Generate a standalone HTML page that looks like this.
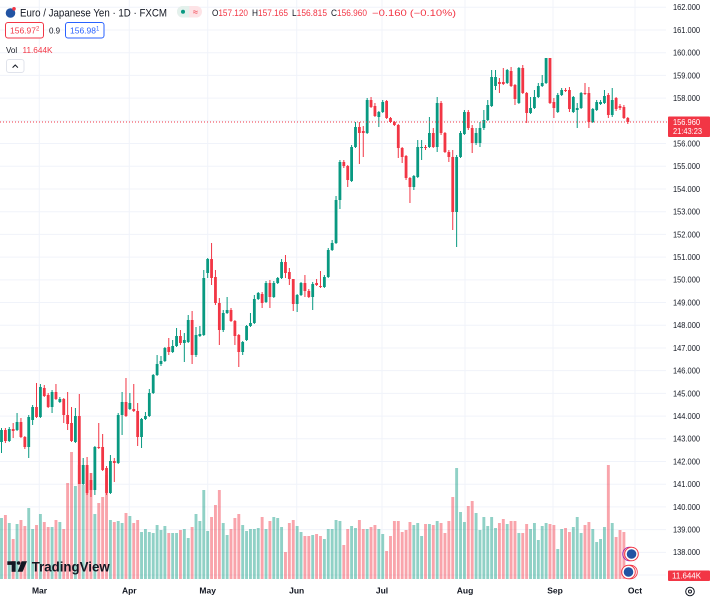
<!DOCTYPE html>
<html><head><meta charset="utf-8">
<style>
html,body{margin:0;padding:0;background:#fff;width:710px;height:600px;overflow:hidden}
svg{display:block;font-family:"Liberation Sans",Arial,sans-serif}
</style></head><body>
<svg id="c" width="710" height="600" viewBox="0 0 710 600" xmlns="http://www.w3.org/2000/svg">
<rect x="0" y="0" width="710" height="600" fill="#fff"/>
<g id="grid"></g>
<g id="vol"></g>
<g id="cand"></g>
<line x1="0" y1="122" x2="668" y2="122" stroke="#f23645" stroke-width="1" stroke-dasharray="1,2"/>
<g id="plabels" font-size="8" fill="#131722"></g>

<!-- current price box -->
<rect x="668" y="116.5" width="42" height="20.5" fill="#f23645" rx="1"/>
<text x="673" y="124.8" font-size="8" fill="#fff" textLength="27" lengthAdjust="spacingAndGlyphs">156.960</text>
<text x="673" y="134" font-size="8" fill="#fff" textLength="29" lengthAdjust="spacingAndGlyphs">21:43:23</text>

<!-- volume label box -->
<rect x="668" y="570.5" width="42" height="10.5" fill="#f23645" rx="1"/>
<text x="672" y="578.6" font-size="8" fill="#fff" textLength="29" lengthAdjust="spacingAndGlyphs">11.644K</text>

<!-- time axis -->
<g font-size="8.5" font-weight="bold" fill="#131722" text-anchor="middle">
<text x="39.5" y="593.5">Mar</text>
<text x="129.3" y="593.5">Apr</text>
<text x="207.7" y="593.5">May</text>
<text x="296.7" y="593.5">Jun</text>
<text x="382" y="593.5">Jul</text>
<text x="465" y="593.5">Aug</text>
<text x="555" y="593.5">Sep</text>
<text x="635" y="593.5">Oct</text>
</g>
<!-- gear -->
<circle cx="690" cy="591.5" r="4.3" fill="none" stroke="#131722" stroke-width="1"/>
<circle cx="690" cy="591.5" r="1.5" fill="none" stroke="#131722" stroke-width="1"/>

<!-- EU flag icons -->
<circle cx="629.5" cy="554" r="6.8" fill="none" stroke="#9c27b0" stroke-width="0.9"/>
<circle cx="631.5" cy="554" r="6.8" fill="#fff" stroke="#f23645" stroke-width="1"/>
<circle cx="631.5" cy="554" r="4.8" fill="#2254a3"/>
<circle cx="630.5" cy="572" r="6.8" fill="none" stroke="#f23645" stroke-width="0.9"/>
<circle cx="628.5" cy="572" r="6.8" fill="#fff" stroke="#f23645" stroke-width="1"/>
<circle cx="628.5" cy="572" r="4.8" fill="#2254a3"/>

<!-- TradingView logo -->
<g fill="#131722">
<rect x="7.3" y="561.3" width="8.3" height="3.6"/>
<rect x="11.6" y="561.3" width="4" height="10.5"/>
<circle cx="18.6" cy="563" r="1.8"/>
<polygon points="21.6,561.3 27,561.3 22.6,571.8 17.6,571.8"/>
</g>
<text x="31.7" y="571.7" font-size="14" font-weight="bold" fill="#131722" textLength="78" lengthAdjust="spacingAndGlyphs">TradingView</text>

<!-- header -->
<circle cx="10.5" cy="13" r="4.8" fill="#2254a3"/>
<circle cx="14" cy="8.8" r="1.8" fill="#f23645"/>
<text x="20" y="16.3" font-size="11" fill="#131722" textLength="147" lengthAdjust="spacingAndGlyphs">Euro / Japanese Yen · 1D · FXCM</text>
<rect x="177" y="6" width="25" height="11.5" rx="5.75" fill="#fde3e6"/>
<path d="M182.75,6 h6.5 v11.5 h-6.5 a5.75,5.75 0 0 1 0,-11.5 z" fill="#e3f1ec"/>
<circle cx="183" cy="11.75" r="2" fill="#089981"/>
<text x="195.5" y="15" font-size="9" fill="#f23645" text-anchor="middle">≈</text>

<g font-size="8.8" fill="#f23645">
<text x="212" y="16" textLength="36" lengthAdjust="spacingAndGlyphs"><tspan fill="#131722">O</tspan>157.120</text>
<text x="252" y="16" textLength="36" lengthAdjust="spacingAndGlyphs"><tspan fill="#131722">H</tspan>157.165</text>
<text x="292" y="16" textLength="35" lengthAdjust="spacingAndGlyphs"><tspan fill="#131722">L</tspan>156.815</text>
<text x="331" y="16" textLength="36" lengthAdjust="spacingAndGlyphs"><tspan fill="#131722">C</tspan>156.960</text>
<text x="372" y="16" textLength="84" lengthAdjust="spacingAndGlyphs">−0.160 (−0.10%)</text>
</g>

<rect x="5.5" y="22.5" width="38" height="15.5" rx="2.5" fill="#fff" stroke="#f23645" stroke-width="1"/>
<text x="10" y="33.4" font-size="8.5" fill="#f23645">156.97<tspan font-size="6" dy="-3">2</tspan></text>
<text x="49" y="33.4" font-size="8" fill="#131722">0.9</text>
<rect x="65.5" y="22.5" width="38.5" height="15.5" rx="2.5" fill="#fff" stroke="#2962ff" stroke-width="1"/>
<text x="70" y="33.4" font-size="8.5" fill="#2962ff">156.98<tspan font-size="6" dy="-3">1</tspan></text>

<text x="6" y="53" font-size="8" fill="#131722">Vol</text>
<text x="22.5" y="53" font-size="8" fill="#f23645" textLength="30" lengthAdjust="spacingAndGlyphs">11.644K</text>

<rect x="6.5" y="59.5" width="17.5" height="13" rx="2.5" fill="#fff" stroke="#e0e3eb" stroke-width="1"/>
<polyline points="12.6,67.6 15.25,65 17.9,67.6" fill="none" stroke="#131722" stroke-width="1"/>
</svg>
<script>
const C=[
[1,430,442,428,453],[0,430,441,428,443],[1,429,441,427,442],[0,429,431,423,438],[1,422,430,413,431],
[0,422,437,418,438],[0,437,447,436,449],[1,417,447,415,458],[1,407,420,405,425],[0,407,417,383,418],
[1,387,417,384,418],[0,388,396,385,397],[0,395,407,393,408],[1,392,407,390,413],[0,392,399,384,400],
[1,399,402,397,403],[0,399,415,398,423],[0,415,424,392,430],[0,423,441,407,442],[1,416,442,408,443],
[0,416,484,394,484],[1,465,484,458,485],[0,465,493,457,495],[0,480,490,473,497],[1,447,490,446,495],
[0,447,448,423,449],[0,447,470,434,471],[0,468,493,466,495],[1,461,493,455,494],[0,461,463,458,482],
[1,415,463,413,464],[1,402,415,392,435],[0,402,416,378,417],[1,403,409,393,410],[0,409,411,384,412],
[0,411,437,403,446],[1,419,437,418,448],[1,416,419,412,420],[1,393,416,389,417],[1,375,393,374,394],
[1,364,375,355,376],[1,361,364,356,366],[1,348,361,347,362],[0,347,352,338,355],[1,346,352,340,353],
[1,336,346,328,347],[0,336,343,330,345],[1,340,343,333,362],[1,320,342,315,343],[0,320,355,311,364],
[1,335,355,327,357],[1,334,336,326,337],[1,278,335,270,336],[1,259,273,258,278],[0,259,278,243,285],
[0,277,303,270,305],[0,303,330,298,345],[1,313,330,310,332],[1,310,313,297,314],[0,310,321,308,322],
[0,321,336,320,345],[0,335,352,334,367],[1,342,352,341,355],[1,326,340,325,341],[1,323,326,313,327],
[1,299,323,295,324],[1,293,299,292,300],[0,294,303,292,308],[1,283,302,281,303],[0,283,297,280,308],
[1,283,297,281,298],[1,278,283,277,284],[1,262,278,259,279],[0,262,273,255,278],[0,272,279,268,285],
[0,279,304,279,311],[1,295,304,294,312],[1,283,295,282,296],[0,283,291,275,297],[0,291,297,289,298],
[1,284,297,282,310],[0,283,285,279,286],[0,286,287,271,288],[1,277,287,275,288],[1,250,277,248,278],
[1,243,250,240,251],[1,200,243,196,244],[1,162,200,160,209],[0,162,166,160,168],[0,166,180,165,187],
[1,147,181,145,182],[1,127,147,122,148],[0,127,133,122,164],[0,131,133,126,157],[1,100,133,98,134],
[0,100,107,97,108],[0,106,116,103,117],[1,112,117,111,127],[1,102,112,100,113],[0,101,118,100,119],
[0,118,122,117,123],[0,122,125,121,126],[0,125,148,124,158],[0,148,157,147,163],[0,156,178,155,180],
[0,178,187,177,203],[1,176,187,175,190],[1,147,177,140,178],[1,147,148,140,160],[0,147,148,145,150],
[1,133,147,117,148],[0,133,147,128,148],[1,103,147,97,152],[0,103,133,101,135],[0,133,152,132,153],
[0,152,157,150,162],[0,157,212,150,230],[1,157,212,155,247],[1,133,157,131,158],[1,112,134,110,135],
[0,112,128,110,130],[0,128,143,125,153],[1,133,143,128,145],[1,128,143,122,147],[1,120,128,110,130],
[1,105,120,100,121],[1,77,106,70,107],[1,77,86,70,90],[0,82,84,78,93],[0,82,84,68,85],
[1,70,83,69,84],[0,71,86,67,87],[0,85,99,84,105],[1,68,103,67,104],[0,68,93,65,94],
[0,93,113,92,123],[1,108,113,97,114],[1,97,108,90,109],[1,86,97,83,98],[1,83,86,75,87],
[1,58,83,58,84],[0,58,103,58,104],[0,102,108,98,118],[1,95,112,93,113],[1,90,95,88,96],
[0,90,91,88,92],[0,90,109,87,112],[1,97,112,96,113],[1,108,110,103,128],[1,93,108,92,109],
[0,93,94,83,95],[0,93,122,87,128],[1,109,122,108,123],[1,102,110,100,111],[1,102,104,100,105],
[1,96,103,90,104],[0,95,115,93,118],[1,100,115,88,117],[0,98,109,97,111],[0,106,108,104,110],
[0,107,118,105,119],[0,118,122,117,124]
];
const V=[518,515,523,539,524,520,526,508,529,525,514,522,527,527,520,522,529,483,452,486,
465,485,468,473,514,503,497,475,520,522,521,523,513,516,523,520,532,529,532,533,
525,530,526,533,533,533,530,529,538,527,514,521,490,531,517,505,490,523,535,529,
518,514,525,531,529,529,528,517,529,521,517,518,527,552,523,520,526,532,536,536,
535,534,536,539,529,529,520,521,545,529,526,528,520,529,529,527,525,529,534,551,
536,521,521,532,530,522,525,523,536,524,524,525,521,523,533,521,497,468,512,522,
506,501,513,530,517,526,517,528,523,519,524,521,521,533,533,524,529,523,540,526,
523,524,525,549,529,528,532,527,517,533,525,522,529,542,539,527,465,523,537,530,
532,576];
const NS="http://www.w3.org/2000/svg";
function el(p,t,a,txt){const e=document.createElementNS(NS,t);for(const k in a)e.setAttribute(k,a[k]);if(txt!==undefined)e.textContent=txt;p.appendChild(e);return e;}
const grid=document.getElementById('grid');
const pl=document.getElementById('plabels');
for(let p=137;p<=162;p++){
  const y=7.3+(162-p)*22.71;
  el(grid,'line',{x1:0,x2:666,y1:y,y2:y,stroke:'#f0f3fa','stroke-width':1});
  if(p!==157 && p!==137) el(pl,'text',{x:673,y:(y+2.9).toFixed(1),textLength:27,lengthAdjust:'spacingAndGlyphs'},p+'.000');
}
[39.3,129.3,207.7,296.7,382,465,553,635].forEach(x=>el(grid,'line',{x1:x,x2:x,y1:0,y2:580,stroke:'#f0f3fa','stroke-width':1}));
const vol=document.getElementById('vol'), cand=document.getElementById('cand');
const X=k=>1.5+3.89*k;
V.forEach((v,k)=>{const x=X(k);const g=C[k][0];
  el(vol,'rect',{x:(x-1.45).toFixed(2),y:v,width:2.9,height:579-v,fill:g?'rgba(8,153,129,0.45)':'rgba(242,54,69,0.45)'});});
C.forEach((c,k)=>{const x=X(k);const col=c[0]?'#089981':'#f23645';
  el(cand,'rect',{x:(x-0.5).toFixed(2),y:c[3],width:1,height:Math.max(1,c[4]-c[3]),fill:col});
  el(cand,'rect',{x:(x-1.4).toFixed(2),y:c[1],width:2.8,height:Math.max(1,c[2]-c[1]),fill:col});
});
</script>
</body></html>
